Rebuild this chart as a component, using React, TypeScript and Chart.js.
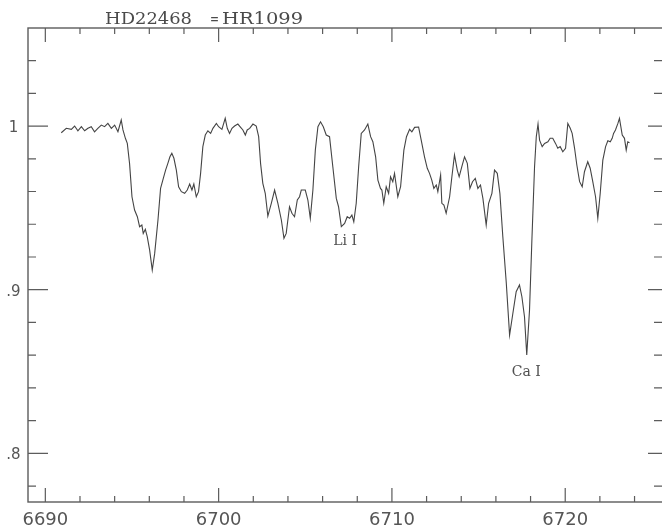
import { useEffect, useRef } from "react";
import { Chart, registerables } from "chart.js";

Chart.register(...registerables);

// Spectrum: wavelength (Angstrom) and normalised flux
const wavelength = [
  6690.92, 6691.21, 6691.5, 6691.69, 6691.88, 6692.08, 6692.27, 6692.46, 6692.65, 6692.84,
  6693.03, 6693.23, 6693.42, 6693.61, 6693.81, 6694.0, 6694.19, 6694.38, 6694.48, 6694.62,
  6694.73, 6694.86, 6695.0, 6695.15, 6695.31, 6695.44, 6695.57, 6695.65, 6695.77, 6695.88,
  6696.02, 6696.17, 6696.31, 6696.5, 6696.65, 6696.78, 6696.94, 6697.07, 6697.19, 6697.3,
  6697.42, 6697.56, 6697.69, 6697.85, 6698.04, 6698.19, 6698.33, 6698.46, 6698.57, 6698.71,
  6698.84, 6698.96, 6699.09, 6699.23, 6699.38, 6699.54, 6699.67, 6699.87, 6700.0, 6700.19,
  6700.38, 6700.5, 6700.63, 6700.77, 6700.92, 6701.11, 6701.27, 6701.4, 6701.54, 6701.65,
  6701.79, 6701.98, 6702.17, 6702.31, 6702.42, 6702.55, 6702.69, 6702.84, 6703.04, 6703.23,
  6703.42, 6703.62, 6703.77, 6703.9, 6704.09, 6704.23, 6704.38, 6704.54, 6704.67, 6704.77,
  6705.0, 6705.15, 6705.29, 6705.44, 6705.58, 6705.73, 6705.88, 6706.04, 6706.21, 6706.4,
  6706.59, 6706.79, 6706.92, 6707.08, 6707.27, 6707.42, 6707.56, 6707.69, 6707.8, 6707.94,
  6708.08, 6708.23, 6708.42, 6708.61, 6708.77, 6708.9, 6709.06, 6709.19, 6709.34, 6709.42,
  6709.53, 6709.67, 6709.81, 6709.92, 6710.05, 6710.15, 6710.34, 6710.5, 6710.69, 6710.84,
  6711.02, 6711.15, 6711.31, 6711.54, 6711.69, 6711.88, 6712.04, 6712.17, 6712.3, 6712.42,
  6712.56, 6712.65, 6712.81, 6712.88, 6713.0, 6713.13, 6713.33, 6713.46, 6713.61, 6713.77,
  6713.88, 6714.03, 6714.19, 6714.35, 6714.5, 6714.65, 6714.81, 6714.96, 6715.11, 6715.25,
  6715.44, 6715.58, 6715.77, 6715.92, 6716.08, 6716.23, 6716.4, 6716.6, 6716.79, 6716.98,
  6717.17, 6717.36, 6717.5, 6717.65, 6717.78, 6717.94, 6718.07, 6718.23, 6718.33, 6718.43,
  6718.52, 6718.67, 6718.81, 6719.0, 6719.13, 6719.28, 6719.44, 6719.57, 6719.71, 6719.86,
  6720.02, 6720.15, 6720.29, 6720.4, 6720.54, 6720.67, 6720.83, 6720.98, 6721.11, 6721.3,
  6721.44, 6721.59, 6721.75, 6721.88, 6722.02, 6722.17, 6722.33, 6722.46, 6722.6, 6722.71,
  6722.79, 6722.9, 6723.04, 6723.13, 6723.29, 6723.42, 6723.52, 6723.61, 6723.71,
];

const flux = [
  0.9959, 0.9986, 0.998, 1.0, 0.9971, 0.9996, 0.9971, 0.9986, 0.9996, 0.9965,
  0.9986, 1.0006, 0.9996, 1.0016, 0.9986, 1.0006, 0.9965, 1.0037, 0.9976, 0.9925,
  0.9894, 0.9772, 0.9568, 0.9487, 0.9446, 0.9385, 0.9395, 0.9344, 0.9369, 0.9324,
  0.9242, 0.912, 0.9222, 0.9426, 0.9619, 0.967, 0.9731, 0.9772, 0.9812, 0.9833,
  0.9803, 0.9731, 0.9629, 0.9599, 0.9589, 0.9609, 0.9646, 0.9609, 0.9646, 0.9568,
  0.9599, 0.9711, 0.9874, 0.9945, 0.9971, 0.9955, 0.9986, 1.0016, 0.9996, 0.998,
  1.0047, 0.9986, 0.9955, 0.9986, 1.0, 1.0012, 0.9992, 0.9976, 0.9945, 0.9976,
  0.9986, 1.0012, 1.0, 0.9935, 0.9772, 0.965, 0.9589, 0.945, 0.9528, 0.9609,
  0.9528, 0.9426, 0.9314, 0.9344, 0.9507, 0.9467, 0.9446, 0.9548, 0.9568, 0.9609,
  0.9609, 0.9548, 0.9436, 0.9609, 0.9853, 0.9996, 1.0026, 0.9996, 0.9945, 0.9935,
  0.9751, 0.9558, 0.9507, 0.9385, 0.9405, 0.9446, 0.9436, 0.9456, 0.9415, 0.9528,
  0.9751, 0.9955, 0.9976, 1.0012, 0.9935, 0.9904, 0.9812, 0.967, 0.9619, 0.9609,
  0.9528, 0.9629, 0.9589, 0.969, 0.966, 0.9711, 0.9568, 0.9629, 0.9853, 0.9935,
  0.998, 0.9965, 0.9992, 0.9994, 0.9914, 0.9812, 0.9742, 0.9711, 0.967, 0.9619,
  0.964, 0.9599, 0.9701, 0.9528, 0.9517, 0.9467, 0.9568, 0.969, 0.9823, 0.9731,
  0.969, 0.9751, 0.9812, 0.9772, 0.9619, 0.966, 0.968, 0.9619, 0.964, 0.9558,
  0.9395, 0.9528, 0.9589, 0.9731, 0.9711, 0.9589, 0.9324, 0.9039, 0.8723, 0.8856,
  0.8988, 0.9029, 0.8957, 0.8835, 0.8601, 0.8876, 0.9283, 0.9751, 0.9935, 1.0012,
  0.9914, 0.9874, 0.9894, 0.9904, 0.9925, 0.9925, 0.9894, 0.9864, 0.9874, 0.9843,
  0.9864, 1.0016, 0.9986, 0.9955, 0.9864, 0.9762, 0.966, 0.9629, 0.9721, 0.9782,
  0.9742, 0.966, 0.9568, 0.9436, 0.9589, 0.9792, 0.9874, 0.991, 0.9904, 0.9925,
  0.9955, 0.9976, 1.0016, 1.0047, 0.9945, 0.9925, 0.9853, 0.9904, 0.9898,
];

// Axis extents
const xRange = [6689, 6725.7];
const yRange = [0.7703, 1.0599];

// Ticks and tick labels
const xMajorTicks = [6690, 6700, 6710, 6720];
const xMajorLabels = ["6690", "6700", "6710", "6720"];
const xMinorTicks = [
  6690, 6692, 6694, 6696, 6698, 6700, 6702, 6704, 6706, 6708, 6710, 6712, 6714, 6716, 6718,
  6720, 6722, 6724,
];
const yMajorTicks = [1, 0.9, 0.8];
const yMajorLabels = ["1", ".9", ".8"];
const yMinorTicks = [
  0.78, 0.8, 0.82, 0.84, 0.86, 0.88, 0.9, 0.92, 0.94, 0.96, 0.98, 1.0, 1.02, 1.04,
];

// Line identifications
const lineNames = ["Li I", "Ca I"];
const lineNameX = [6707.3, 6717.75];
const lineNameY = [0.9297, 0.8497];

// Title
const titleLeft = "HD22468";
const titleRight = "HR1099";

const AXIS_COLOR = "#5c5c5c";
const TEXT_COLOR = "#555555";

function drawStretched(
  ctx: CanvasRenderingContext2D,
  text: string,
  left: number,
  baseline: number,
  width: number
) {
  const w = ctx.measureText(text).width;
  ctx.save();
  ctx.translate(left, baseline);
  ctx.scale(width / w, 1);
  ctx.textAlign = "left";
  ctx.textBaseline = "alphabetic";
  ctx.fillText(text, 0, 0);
  ctx.restore();
}

const framePlugin = {
  id: "spectrumFrame",
  afterDraw(chart: any) {
    const { ctx, chartArea: a } = chart;
    const xs = chart.scales.x;
    const ys = chart.scales.y;
    ctx.save();

    // frame
    ctx.strokeStyle = AXIS_COLOR;
    ctx.lineWidth = 1.4;
    ctx.strokeRect(a.left, a.top, a.right - a.left, a.bottom - a.top);

    // ticks (inward)
    ctx.lineWidth = 1.2;
    ctx.beginPath();
    for (const v of xMinorTicks) {
      const major = xMajorTicks.includes(v);
      const len = major ? 14 : 6;
      const px = xs.getPixelForValue(v);
      ctx.moveTo(px, a.bottom);
      ctx.lineTo(px, a.bottom - len);
      ctx.moveTo(px, a.top);
      ctx.lineTo(px, a.top + len);
    }
    for (const v of yMinorTicks) {
      const major = yMajorTicks.some((m) => Math.abs(m - v) < 1e-6);
      const py = ys.getPixelForValue(v);
      ctx.moveTo(a.left, py);
      ctx.lineTo(a.left + (major ? 20 : 8), py);
      ctx.moveTo(a.right, py);
      ctx.lineTo(a.right - (major ? 16 : 10), py);
    }
    ctx.stroke();

    // x tick labels
    ctx.fillStyle = TEXT_COLOR;
    ctx.font = '18px "DejaVu Sans"';
    ctx.textAlign = "center";
    ctx.textBaseline = "alphabetic";
    xMajorTicks.forEach((v, i) => {
      ctx.fillText(xMajorLabels[i], xs.getPixelForValue(v), a.bottom + 23);
    });

    // y tick labels
    ctx.font = '15px "DejaVu Sans"';
    ctx.textAlign = "center";
    yMajorTicks.forEach((v, i) => {
      ctx.fillText(yMajorLabels[i], 13.5, ys.getPixelForValue(v) + 6);
    });

    // line identifications
    ctx.font = '14px "DejaVu Serif"';
    ctx.fillStyle = "#505050";
    ctx.textAlign = "center";
    ctx.textBaseline = "middle";
    lineNames.forEach((t, i) => {
      ctx.fillText(t, xs.getPixelForValue(lineNameX[i]), ys.getPixelForValue(lineNameY[i]));
    });

    // title
    ctx.fillStyle = "#4a4a4a";
    ctx.font = '16px "DejaVu Serif"';
    drawStretched(ctx, titleLeft, 105, 24, 87);
    drawStretched(ctx, "=", 210, 24, 9);
    drawStretched(ctx, titleRight, 222, 24, 81);

    ctx.restore();
  },
};

export default function App() {
  const canvasRef = useRef<HTMLCanvasElement | null>(null);

  useEffect(() => {
    const canvas = canvasRef.current;
    if (!canvas) return;
    const points = wavelength.map((w, i) => ({ x: w, y: flux[i] }));
    const chart = new Chart(canvas, {
      type: "line",
      data: {
        datasets: [
          {
            label: "HD22468",
            data: points,
            borderColor: "#444444",
            borderWidth: 1.1,
            pointRadius: 0,
            tension: 0,
            fill: false,
          },
        ],
      },
      options: {
        animation: false,
        responsive: false,
        maintainAspectRatio: false,
        layout: { padding: { left: 28, top: 28, right: 4, bottom: 27 } },
        plugins: {
          legend: { display: false },
          title: { display: false },
          tooltip: { enabled: false },
        },
        scales: {
          x: { type: "linear", min: xRange[0], max: xRange[1], display: false },
          y: { type: "linear", min: yRange[0], max: yRange[1], display: false },
        },
      },
      plugins: [framePlugin],
    });
    return () => chart.destroy();
  }, []);

  return (
    <div
      style={{
        position: "absolute",
        left: 0,
        top: 0,
        width: 662,
        height: 529,
        overflow: "hidden",
        background: "#ffffff",
      }}
    >
      <canvas ref={canvasRef} width={668} height={529} style={{ display: "block" }} />
    </div>
  );
}
